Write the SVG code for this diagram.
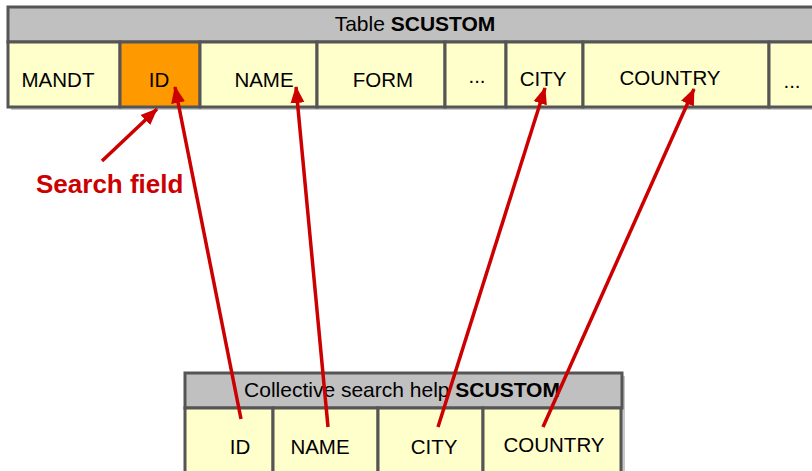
<svg xmlns="http://www.w3.org/2000/svg" width="812" height="471" viewBox="0 0 812 471">
<defs>
<style>
.hdr{fill:#c0c0c0;stroke:#555;stroke-width:3}
.cell{fill:#ffffcc;stroke:#555;stroke-width:3}
.key{fill:#ff9900;stroke:#555;stroke-width:3}
.shadow{fill:#c8c8c8}
.t{font-family:"Liberation Sans",Arial,sans-serif;font-size:20.5px;fill:#000;text-anchor:middle}
.h{font-size:21px}
.b{font-weight:bold}
.red{fill:#cc0000;font-family:"Liberation Sans",Arial,sans-serif;font-size:26px;font-weight:bold}
.arr{stroke:#cc0000;stroke-width:3.5;fill:none;marker-end:url(#ah)}
</style>
<marker id="ah" markerUnits="userSpaceOnUse" markerWidth="18" markerHeight="16" refX="16" refY="7" orient="auto" viewBox="0 0 18 14">
<path d="M0,0 L17,7 L0,14 Z" fill="#cc0000"/>
</marker>
</defs>

<g id="table-scustom">
<rect class="shadow" x="11" y="10" width="820" height="100"/>
<rect class="hdr" x="8" y="7" width="820" height="35"/>
<text class="t h" x="415" y="31">Table <tspan class="b">SCUSTOM</tspan></text>
<g id="t-mandt"><rect class="cell" x="8" y="42" width="112" height="65"/><text class="t" x="58" y="87">MANDT</text></g>
<g id="t-id"><rect class="key" x="120" y="42" width="80" height="65"/><text class="t" x="159" y="87">ID</text></g>
<g id="t-name"><rect class="cell" x="200" y="42" width="117" height="65"/><text class="t" x="264" y="87">NAME</text></g>
<g id="t-form"><rect class="cell" x="317" y="42" width="128" height="65"/><text class="t" x="383" y="87">FORM</text></g>
<g id="t-dots1"><rect class="cell" x="445" y="42" width="61" height="65"/><text class="t" x="477" y="83">...</text></g>
<g id="t-city"><rect class="cell" x="506" y="42" width="77" height="65"/><text class="t" x="543" y="86">CITY</text></g>
<g id="t-country"><rect class="cell" x="583" y="42" width="186" height="65"/><text class="t" x="670" y="85">COUNTRY</text></g>
<g id="t-dots2"><rect class="cell" x="769" y="42" width="60" height="65"/><text class="t" x="792" y="88">...</text></g>
</g>

<g id="search-help">
<rect class="shadow" x="188" y="376" width="437" height="100"/>
<rect class="hdr" x="185" y="373" width="437" height="35"/>
<text class="t h" x="402" y="397">Collective search help <tspan class="b">SCUSTOM</tspan></text>
<g id="s-id"><rect class="cell" x="185" y="408" width="88" height="70"/><text class="t" x="240" y="454">ID</text></g>
<g id="s-name"><rect class="cell" x="273" y="408" width="105" height="70"/><text class="t" x="320" y="454">NAME</text></g>
<g id="s-city"><rect class="cell" x="378" y="408" width="105" height="70"/><text class="t" x="434" y="454">CITY</text></g>
<g id="s-country"><rect class="cell" x="483" y="408" width="138" height="70"/><text class="t" x="554" y="452">COUNTRY</text></g>
</g>

<g id="label-search-field">
<text class="red" x="36" y="193">Search field</text>
</g>

<g id="connectors">
<line class="arr" x1="102" y1="161" x2="157" y2="109"/>
<line class="arr" x1="241" y1="419" x2="175" y2="87"/>
<line class="arr" x1="328" y1="427" x2="296" y2="87"/>
<line class="arr" x1="438" y1="427" x2="545" y2="88"/>
<line class="arr" x1="543" y1="427" x2="694" y2="89"/>
</g>
</svg>
